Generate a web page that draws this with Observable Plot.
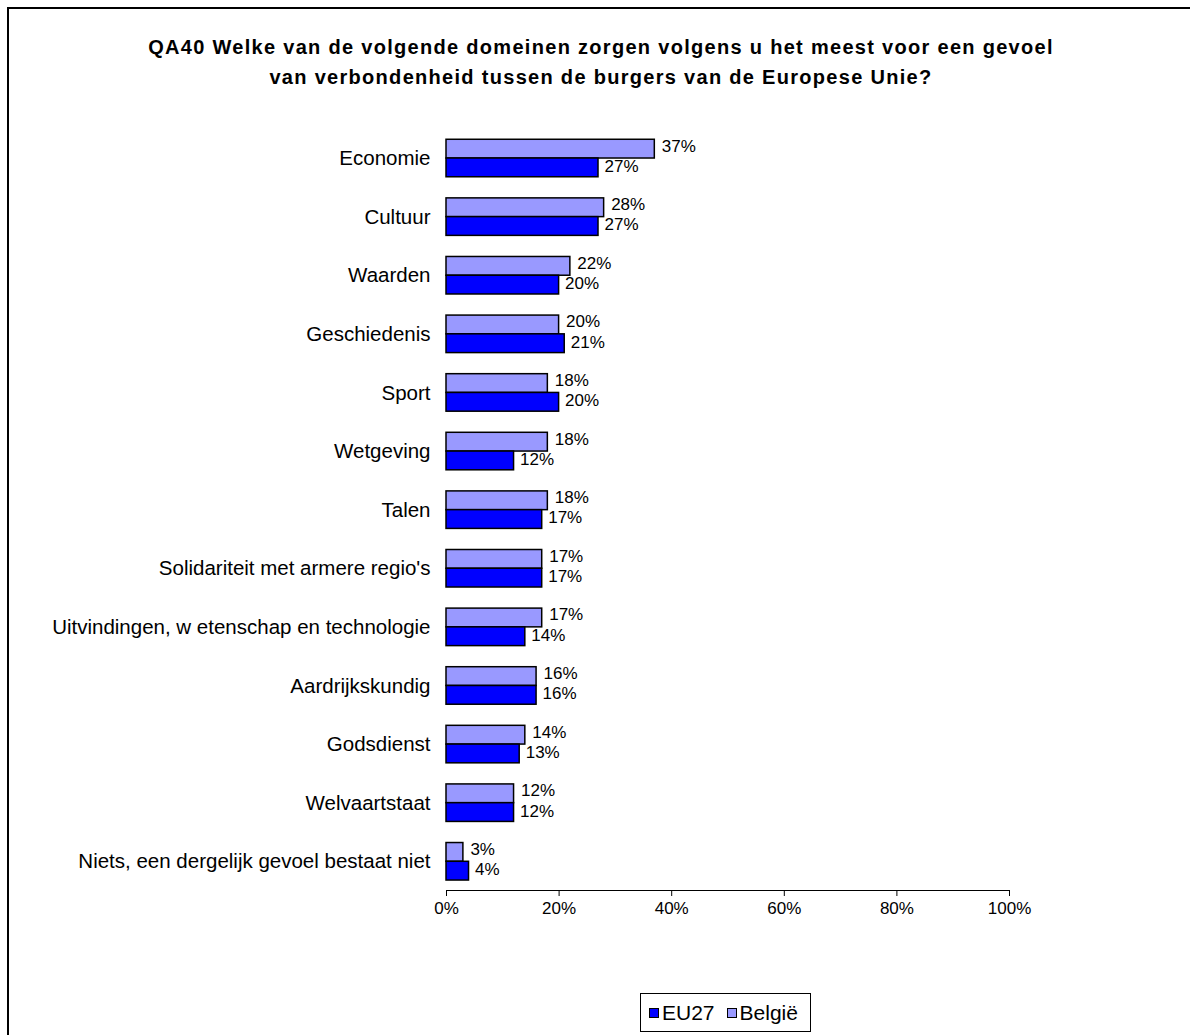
<!DOCTYPE html>
<html>
<head>
<meta charset="utf-8">
<script src="https://cdn.jsdelivr.net/npm/d3@7"></script>
<script src="https://cdn.jsdelivr.net/npm/@observablehq/plot@0.6"></script>
<style>
  html, body { margin: 0; padding: 0; background: #fff; overflow: hidden; }
  body { width: 1190px; height: 1035px; position: relative; font-family: "Liberation Sans", Arial, sans-serif; }
  #frame { position: absolute; left: 7px; top: 7px; width: 1400px; height: 1400px; border: 2px solid #000; box-sizing: border-box; pointer-events: none; }
  #title { height: 110px; box-sizing: border-box; padding-top: 32px; padding-left: 12px; text-align: center; font-weight: bold; font-size: 20px; letter-spacing: 1.3px; line-height: 30px; color: #000; }
  #chart { height: 830px; }
  #legend { position: absolute; left: 640px; top: 993px; width: 171px; height: 39px; box-sizing: border-box; border: 1px solid #000; display: flex; align-items: center; padding-left: 8px; font-size: 21px; }
  .item { display: flex; align-items: center; gap: 3px; }
  .item + .item { margin-left: 12px; }
  .sw { width: 8px; height: 8px; border: 1px solid #000; display: inline-block; }
</style>
</head>
<body>
<div id="frame"></div>
<div id="title">QA40 Welke van de volgende domeinen zorgen volgens u het meest voor een gevoel<br>van verbondenheid tussen de burgers van de Europese Unie?</div>
<div id="chart"></div>
<div id="legend"></div>
<script>
const categories = ["Economie", "Cultuur", "Waarden", "Geschiedenis", "Sport", "Wetgeving", "Talen",
  "Solidariteit met armere regio's", "Uitvindingen, w etenschap en technologie", "Aardrijkskundig",
  "Godsdienst", "Welvaartstaat", "Niets, een dergelijk gevoel bestaat niet"];
const belgie = [37, 28, 22, 20, 18, 18, 18, 17, 17, 16, 14, 12, 3];
const eu27 = [27, 27, 20, 21, 20, 12, 17, 17, 14, 16, 13, 12, 4];
const seriesNames = ["EU27", "België"];
const seriesColors = ["#0000FF", "#9999FF"];
const xTicks = [0, 20, 40, 60, 80, 100];

const rows = [];
categories.forEach((c, i) => {
  rows.push({cat: c, series: "België", value: belgie[i]});
  rows.push({cat: c, series: "EU27", value: eu27[i]});
});
const bel = rows.filter(d => d.series === "België");
const eu = rows.filter(d => d.series === "EU27");

const W = 1190, H = 830, mt = 19.3, mb = 50, ml = 446, mr = 181;
const pi = 0.36, po = 0.17;
const step = (H - mt - mb) / (categories.length - pi + 2 * po);
const bw = step * (1 - pi);
const half = bw / 2;

const chart = Plot.plot({
  width: W, height: H,
  marginTop: mt, marginBottom: mb, marginLeft: ml, marginRight: mr,
  style: {fontFamily: "'Liberation Sans', Arial, sans-serif", color: "#000", background: "transparent"},
  x: {domain: [0, 100], ticks: xTicks, tickFormat: d => d + "%"},
  y: {domain: categories, paddingInner: pi, paddingOuter: po, round: false},
  color: {domain: seriesNames, range: seriesColors},
  marks: [
    Plot.barX(bel, {x: "value", y: "cat", fill: "series", stroke: "#000", strokeWidth: 1.5, insetBottom: half}),
    Plot.barX(eu, {x: "value", y: "cat", fill: "series", stroke: "#000", strokeWidth: 1.5, insetTop: half}),
    Plot.text(bel, {x: "value", y: "cat", text: d => d.value + "%", textAnchor: "start", dx: 7, dy: -half / 2 - 3, fontSize: 17, fill: "#000"}),
    Plot.text(eu, {x: "value", y: "cat", text: d => d.value + "%", textAnchor: "start", dx: 6, dy: half / 2 - 1.5, fontSize: 17, fill: "#000"}),
    Plot.frame({anchor: "bottom", stroke: "#000", strokeWidth: 1}),
    Plot.axisX({ticks: xTicks, tickFormat: d => d + "%", tickSize: 6, tickPadding: 5, fontSize: 17, label: null, stroke: "#000"}),
    Plot.axisY({tickSize: 0, tickPadding: 16, fontSize: 20.5, label: null})
  ]
});
document.getElementById("chart").appendChild(chart);

const legend = document.getElementById("legend");
seriesNames.forEach((s, i) => {
  const item = document.createElement("span");
  item.className = "item";
  const sw = document.createElement("span");
  sw.className = "sw";
  sw.style.background = seriesColors[i];
  const t = document.createElement("span");
  t.textContent = s;
  item.appendChild(sw); item.appendChild(t);
  legend.appendChild(item);
});
</script>
</body>
</html>
